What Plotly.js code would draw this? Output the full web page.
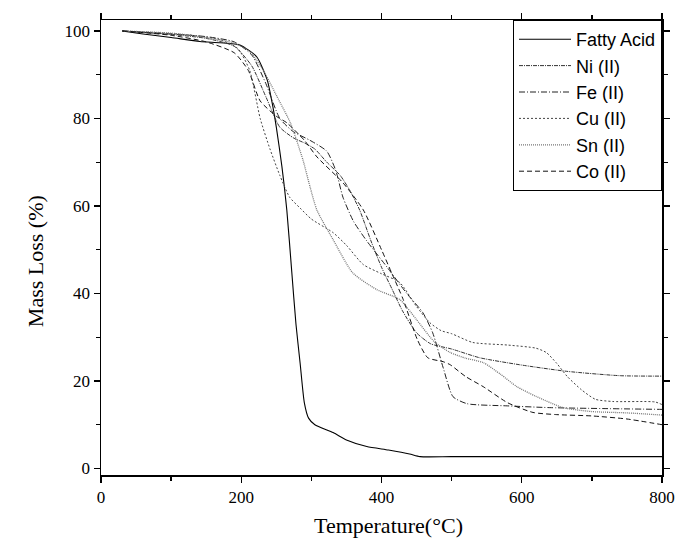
<!DOCTYPE html>
<html>
<head>
<meta charset="utf-8">
<script src="https://cdn.plot.ly/plotly-3.0.1.min.js"></script>
<style>html,body{margin:0;padding:0;background:#fff;}#chart{width:678px;height:541px;}</style>
</head>
<body>
<div id="chart"></div>
<script>
const seriesNames = ["Fatty Acid", "Ni (II)", "Fe (II)", "Cu (II)", "Sn (II)", "Co (II)"];

const fattyT = [30,60,100,141,170,198,222,237,244,250,258,265,272,278,284,290,296,305,331,350,379,410,440,455,500,600,700,800];
const fattyM = [100,99.3,98.5,97.6,97.3,96.8,94.1,88.8,83.6,78,69,59,45,33,24,15,11.5,10,8.2,6.5,5,4.2,3.3,2.7,2.7,2.7,2.7,2.7];

const niT = [30,100,150,190,215,235,255,275,290,305,322,341,355,369,385,400,415,430,450,470,500,540,597,664,740,800];
const niM = [100,99.2,98.3,96.5,92,85,78,75.5,74.4,73,70,67,63.5,59,52,46,41,36,31,28.5,27.3,25.3,23.7,22.2,21.2,21.1];

const feT = [30,100,150,190,215,235,255,274,298,322,335,345,360,379,408,436,459,473,488,502,522,580,640,800];
const feM = [100,99.3,98.7,97.5,94.5,88,80,77,75,72.5,68,62,56.5,52,46,40,35.6,31,23,16.4,14.8,14.3,13.9,13.5];

const cuT = [30,80,130,170,195,212,227,241,255,269,284,300,331,350,374,400,426,450,469,485,500,530,580,620,635,650,665,685,705,730,790,800];
const cuM = [100,99.6,99,98,96,91,80,73,67,62,59.5,57,53.9,51,46.6,44.5,42.5,37,33.3,31.5,30.8,28.8,28.2,27.5,26.5,24,21,18,15.8,15.3,15.2,14.6];

const snT = [30,100,141,188,212,231,251,270,288,298,308,331,359,393,426,450,475,498,520,545,570,593,620,659,700,750,800];
const snM = [100,99.5,98.7,97.3,95.3,91.1,85,79,70.5,64.4,59,52.3,44.7,40.9,38.6,34,29,26.5,25.2,24.2,21.5,18.7,16.5,13.9,13,12.7,12.2];

const coT = [30,100,150,190,210,227,250,265,290,308,345,374,400,415,431,451,466,488,498,520,545,580,616,650,700,750,800];
const coM = [100,99,97.5,95,91,84,80.5,79,75,71.2,65.3,59.1,50,44.5,38.6,29.5,25.3,24.4,23.7,21,18.7,15,12.8,12.3,12,11.3,10];

const xTickVals = [0,200,400,600,800];
const yTickVals = [0,20,40,60,80,100];
const xTitle = 'Temperature(°C)';
const yTitle = 'Mass Loss (%)';

const styles = [
  {color:'#000000', dash:'solid', width:1.1},
  {color:'#333333', dash:'4px,1px,1px,1px', width:1},
  {color:'#222222', dash:'6px,2px,1px,2px', width:1},
  {color:'#444444', dash:'2px,2px', width:1},
  {color:'#777777', dash:'1px,1px', width:1.3},
  {color:'#111111', dash:'5px,3px', width:1}
];
const xs = [fattyT, niT, feT, cuT, snT, coT];
const ys = [fattyM, niM, feM, cuM, snM, coM];

const data = seriesNames.map((n,i)=>({
  x: xs[i], y: ys[i], name: n, type:'scatter', mode:'lines',
  line: {color: styles[i].color, dash: styles[i].dash, width: styles[i].width, shape:'spline', smoothing:0.6}
}));

const serif = 'Liberation Serif, Times New Roman, serif';
const axisCommon = {
  showline:true, linecolor:'#000', linewidth:1.5, mirror:'allticks',
  ticks:'outside', ticklen:6, tickwidth:1.3, tickcolor:'#000',
  showgrid:false, zeroline:false,
  tickfont:{family:serif, size:17, color:'#000'}
};

const layout = {
  width:678, height:541,
  margin:{l:101, r:16, t:20, b:66},
  paper_bgcolor:'#fff', plot_bgcolor:'#fff',
  showlegend:true,
  xaxis: Object.assign({}, axisCommon, {
    range:[0,800], tickvals:xTickVals, ticktext:xTickVals.map(String),
    minor:{ticks:'outside', ticklen:4, tickwidth:1.3, tickcolor:'#000', tickvals:[100,300,500,700]}
  }),
  yaxis: Object.assign({}, axisCommon, {
    range:[-1.5,102.5], tickvals:yTickVals, ticktext:yTickVals.map(String),
    minor:{ticks:'outside', ticklen:4, tickwidth:1.3, tickcolor:'#000', tickvals:[10,30,50,70,90]}
  }),
  annotations:[
    {text:xTitle, xref:'paper', yref:'paper', x:0.513, y:-0.11, xanchor:'center', yanchor:'middle', showarrow:false,
     font:{family:serif, size:22, color:'#000'}},
    {text:yTitle, xref:'paper', yref:'paper', x:-0.1176, y:0.47, xanchor:'center', yanchor:'middle', showarrow:false, textangle:-90,
     font:{family:serif, size:22, color:'#000'}}
  ],
  legend:{
    x:1, xanchor:'right', y:1, yanchor:'top',
    bgcolor:'#fff', bordercolor:'#000', borderwidth:1,
    font:{family:'Liberation Sans, Arial, sans-serif', size:18, color:'#000'},
    itemwidth:52, tracegroupgap:0
  }
};

Plotly.newPlot('chart', data, layout, {staticPlot:true, displayModeBar:false});
</script>
</body>
</html>
